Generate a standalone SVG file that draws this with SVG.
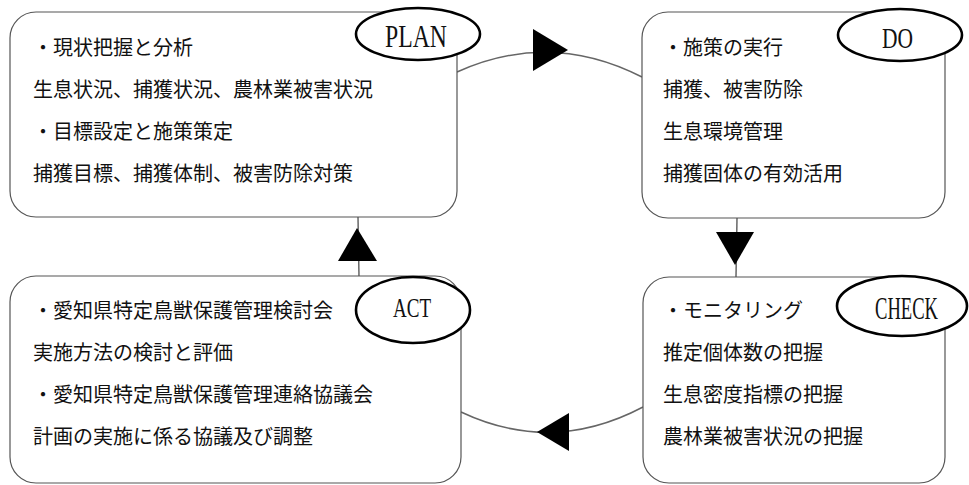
<svg xmlns="http://www.w3.org/2000/svg" width="969" height="485" viewBox="0 0 969 485">
<style>
.box{fill:#fff;stroke:#555;stroke-width:1.2}
.ell{fill:#fff;stroke:#000;stroke-width:2.6}
.jp{font-family:"Noto Sans CJK JP","Noto Sans CJK SC",sans-serif;font-size:20px;fill:#111}
.lbl{font-family:"Liberation Serif",serif;fill:#111}
.ln{fill:none;stroke:#666;stroke-width:1.5}
.ah{fill:#000}
</style>
<rect width="969" height="485" fill="#fff"/>
<g id="connectors">
<path class="ln" d="M457,72 Q550,30 642,77"/>
<polygon class="ah" points="533,29 568,50 533,71"/>
<path class="ln" d="M737,218 L736,277"/>
<polygon class="ah" points="716,232 754,232 735,265"/>
<path class="ln" d="M643,407 Q552,455 461,412"/>
<polygon class="ah" points="569,413 537,432 569,451"/>
<path class="ln" d="M358,217 L359,277"/>
<polygon class="ah" points="338,261 377,261 357,228"/>
</g>
<g id="plan">
<rect class="box" x="10" y="12" width="447" height="205" rx="26" ry="26"/>
<ellipse class="ell" cx="418" cy="34" rx="62" ry="26"/>
<text class="lbl" font-size="32" transform="translate(385,47) scale(0.742,1)">PLAN</text>
<text class="jp" x="33" y="55">・現状把握と分析</text>
<text class="jp" x="33" y="97">生息状況、捕獲状況、農林業被害状況</text>
<text class="jp" x="33" y="139">・目標設定と施策策定</text>
<text class="jp" x="33" y="181">捕獲目標、捕獲体制、被害防除対策</text>
</g>
<g id="do">
<rect class="box" x="642" y="12" width="303" height="206" rx="26" ry="26"/>
<ellipse class="ell" cx="900" cy="35" rx="62" ry="26"/>
<text class="lbl" font-size="30" transform="translate(882,48) scale(0.716,1)">DO</text>
<text class="jp" x="663" y="55">・施策の実行</text>
<text class="jp" x="663" y="97">捕獲、被害防除</text>
<text class="jp" x="663" y="139">生息環境管理</text>
<text class="jp" x="663" y="181">捕獲固体の有効活用</text>
</g>
<g id="check">
<rect class="box" x="643" y="277" width="302" height="206" rx="26" ry="26"/>
<ellipse class="ell" cx="902" cy="306" rx="65" ry="30"/>
<text class="lbl" font-size="31" transform="translate(875,319) scale(0.6,1)">CHECK</text>
<text class="jp" x="663" y="318">・モニタリング</text>
<text class="jp" x="663" y="360">推定個体数の把握</text>
<text class="jp" x="663" y="402">生息密度指標の把握</text>
<text class="jp" x="663" y="444">農林業被害状況の把握</text>
</g>
<g id="act">
<rect class="box" x="10" y="276" width="451" height="207" rx="26" ry="26"/>
<ellipse class="ell" cx="413" cy="310" rx="57" ry="33"/>
<text class="lbl" font-size="28" transform="translate(393,317) scale(0.68,1)">ACT</text>
<text class="jp" x="33" y="318">・愛知県特定鳥獣保護管理検討会</text>
<text class="jp" x="33" y="360">実施方法の検討と評価</text>
<text class="jp" x="33" y="402">・愛知県特定鳥獣保護管理連絡協議会</text>
<text class="jp" x="33" y="444">計画の実施に係る協議及び調整</text>
</g>
</svg>
